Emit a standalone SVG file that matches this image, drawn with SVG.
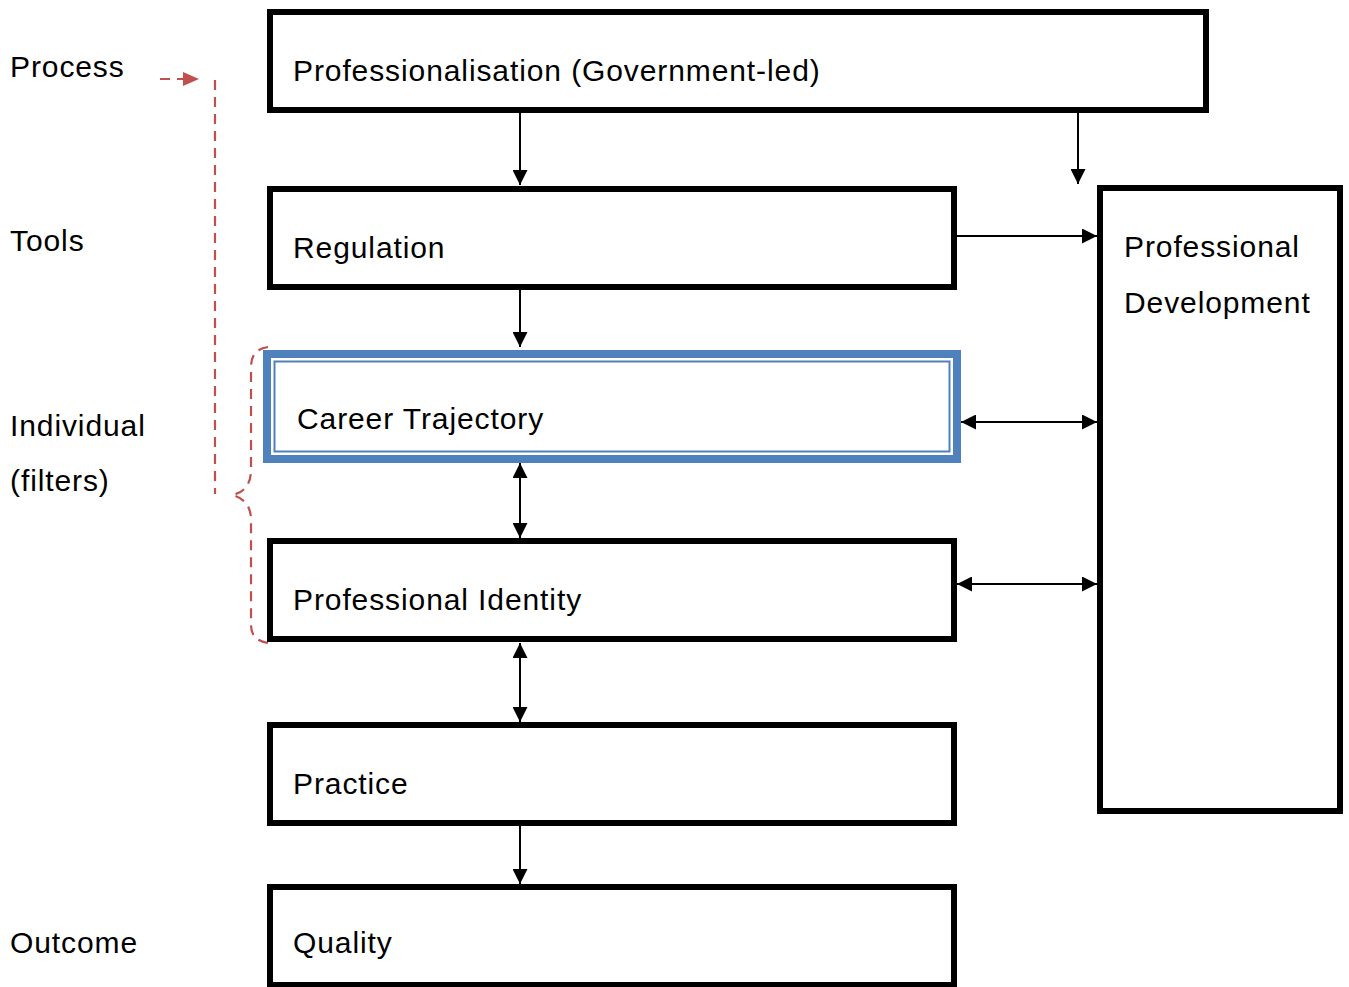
<svg xmlns="http://www.w3.org/2000/svg" width="1349" height="987" viewBox="0 0 1349 987">
<style>
.box{fill:#fff;stroke:#000;stroke-width:6}
.t{font-family:"Liberation Sans",Arial,sans-serif;font-size:30px;letter-spacing:0.9px;fill:#000}
.c{stroke:#000;stroke-width:2;fill:none}
.d{stroke:#C0504D;stroke-width:2.2;fill:none;stroke-dasharray:10 7}
</style>
<defs>
<marker id="a" viewBox="0 0 15 15" refX="15" refY="7.5" markerWidth="15" markerHeight="15" markerUnits="userSpaceOnUse" orient="auto-start-reverse"><path d="M0,0L15,7.5L0,15z" fill="#000"/></marker>
</defs>
<rect width="1349" height="987" fill="#fff"/>
<g id="labels">
<text class="t" x="10" y="77">Process</text>
<text class="t" x="10" y="251">Tools</text>
<text class="t" x="10" y="436">Individual</text>
<text class="t" x="10" y="491">(filters)</text>
<text class="t" x="10" y="953">Outcome</text>
</g>
<g id="annotations">
<path class="d" d="M160,79H183"/>
<path d="M183,72L199,79L183,86z" fill="#C0504D"/>
<path class="d" d="M215,80V494"/>
<path class="d" d="M268,347C256,349 251,355 251,368V470C251,484 244,493 232,495C244,498 251,506 251,520V625C251,635 256,641 268,643"/>
</g>
<g id="connectors">
<line class="c" x1="520" y1="113" x2="520" y2="185" marker-end="url(#a)"/>
<line class="c" x1="1078" y1="113" x2="1078" y2="184" marker-end="url(#a)"/>
<line class="c" x1="957" y1="236" x2="1097" y2="236" marker-end="url(#a)"/>
<line class="c" x1="520" y1="290" x2="520" y2="347" marker-end="url(#a)"/>
<line class="c" x1="961" y1="422" x2="1097" y2="422" marker-start="url(#a)" marker-end="url(#a)"/>
<line class="c" x1="520" y1="463" x2="520" y2="538" marker-start="url(#a)" marker-end="url(#a)"/>
<line class="c" x1="957" y1="584" x2="1097" y2="584" marker-start="url(#a)" marker-end="url(#a)"/>
<line class="c" x1="520" y1="643" x2="520" y2="722" marker-start="url(#a)" marker-end="url(#a)"/>
<line class="c" x1="520" y1="826" x2="520" y2="884" marker-end="url(#a)"/>
</g>
<g id="professionalisation">
<rect class="box" x="270" y="12" width="936" height="98"/>
<text class="t" x="293" y="81">Professionalisation (Government-led)</text>
</g>
<g id="regulation">
<rect class="box" x="270" y="189" width="684" height="98"/>
<text class="t" x="293" y="258">Regulation</text>
</g>
<g id="career">
<rect x="267" y="354" width="690" height="105" fill="#fff" stroke="#4F81BD" stroke-width="8"/>
<rect x="274.5" y="361.5" width="675" height="90" fill="none" stroke="#4F81BD" stroke-width="2"/>
<text class="t" x="297" y="429">Career Trajectory</text>
</g>
<g id="identity">
<rect class="box" x="270" y="541" width="684" height="98"/>
<text class="t" x="293" y="610">Professional Identity</text>
</g>
<g id="practice">
<rect class="box" x="270" y="725" width="684" height="98"/>
<text class="t" x="293" y="794">Practice</text>
</g>
<g id="quality">
<rect class="box" x="270" y="887" width="684" height="98"/>
<text class="t" x="293" y="953">Quality</text>
</g>
<g id="development">
<rect class="box" x="1100" y="188" width="240" height="623"/>
<text class="t" x="1124" y="257">Professional</text>
<text class="t" x="1124" y="313">Development</text>
</g>
</svg>
